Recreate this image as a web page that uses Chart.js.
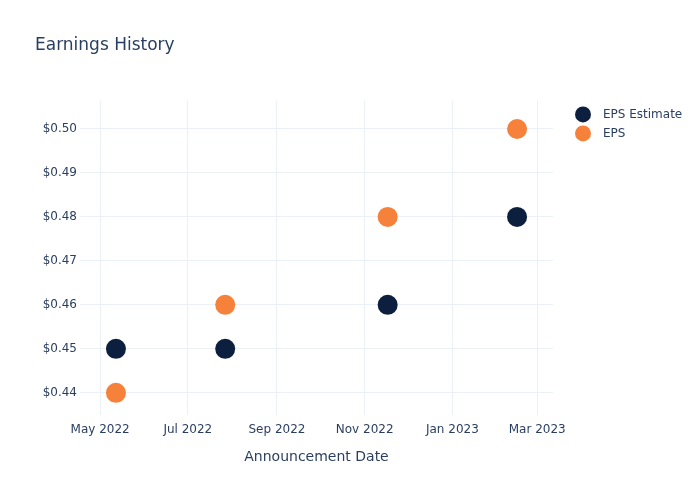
<!DOCTYPE html>
<html>
<head>
<meta charset="utf-8">
<script src="https://cdn.jsdelivr.net/npm/chart.js@4.4.0/dist/chart.umd.min.js"></script>
<style>
  html, body { margin: 0; padding: 0; background: #fff; }
  #wrap { width: 700px; height: 500px; }
</style>
</head>
<body>
<div id="wrap"><canvas id="epsChart"></canvas></div>
<script>
// announcement dates and values
const dates = ["2022-05-12", "2022-07-27", "2022-11-17", "2023-02-15"];
const epsEstimate = [0.45, 0.45, 0.46, 0.48];
const epsActual = [0.44, 0.46, 0.48, 0.50];

const xTickDates = ["2022-05-01", "2022-07-01", "2022-09-01", "2022-11-01", "2023-01-01", "2023-03-01"];
const xTickLabels = ["May 2022", "Jul 2022", "Sep 2022", "Nov 2022", "Jan 2023", "Mar 2023"];
const yTicks = [0.44, 0.45, 0.46, 0.47, 0.48, 0.49, 0.50];

const toMs = d => Date.parse(d + "T00:00:00Z");
const xTickMs = xTickDates.map(toMs);

const textColor = "#2a3f5f";
const gridColor = "#ebf0f8";
const font = "'DejaVu Sans', sans-serif";

// simple right-hand legend, plotly style
const sideLegend = {
    id: "sideLegend",
    afterDraw(chart) {
        const ctx = chart.ctx;
        const x = chart.chartArea.right + 30;
        let y = chart.chartArea.top + 14;
        ctx.save();
        ctx.font = "12px " + font;
        ctx.textBaseline = "middle";
        chart.data.datasets.forEach(ds => {
            ctx.fillStyle = ds.backgroundColor;
            ctx.beginPath();
            ctx.arc(x, y, 8, 0, Math.PI * 2);
            ctx.fill();
            ctx.fillStyle = textColor;
            ctx.fillText(ds.label, x + 20, y);
            y += 19;
        });
        ctx.restore();
    }
};

new Chart(document.getElementById("epsChart"), {
    type: "scatter",
    data: {
        datasets: [{
            label: "EPS Estimate",
            data: dates.map((d, i) => ({ x: toMs(d), y: epsEstimate[i] })),
            backgroundColor: "#0c1f3f",
            borderWidth: 0,
            pointRadius: 10,
            pointHoverRadius: 10,
        }, {
            label: "EPS",
            data: dates.map((d, i) => ({ x: toMs(d), y: epsActual[i] })),
            backgroundColor: "#f5813a",
            borderWidth: 0,
            pointRadius: 10,
            pointHoverRadius: 10,
        }]
    },
    options: {
        responsive: true,
        maintainAspectRatio: false,
        animation: false,
        layout: { padding: { left: 35, right: 147, bottom: 30, top: 0 } },
        plugins: {
            legend: { display: false },
            tooltip: { enabled: false },
            title: {
                display: true,
                text: "Earnings History",
                align: "start",
                color: textColor,
                font: { family: font, size: 17, weight: "normal" },
                padding: { top: 35, bottom: 45 }
            }
        },
        scales: {
            x: {
                type: "linear",
                min: toMs("2022-04-17"),
                max: toMs("2023-03-12"),
                afterBuildTicks: s => { s.ticks = xTickMs.map(v => ({ value: v })); },
                ticks: {
                    color: textColor,
                    font: { family: font, size: 12 },
                    padding: 8,
                    maxRotation: 0,
                    autoSkip: false,
                    callback: v => xTickLabels[xTickMs.indexOf(v)]
                },
                grid: { color: gridColor, drawTicks: false },
                border: { display: false },
                title: {
                    display: true,
                    text: "Announcement Date",
                    color: textColor,
                    font: { family: font, size: 14 },
                    padding: { top: 4, bottom: 4 }
                }
            },
            y: {
                min: 0.435,
                max: 0.5065,
                afterBuildTicks: s => { s.ticks = yTicks.map(v => ({ value: v })); },
                afterFit: s => { s.width = 45; },
                ticks: {
                    color: textColor,
                    font: { family: font, size: 12 },
                    padding: 3,
                    callback: v => "$" + v.toFixed(2)
                },
                grid: { color: gridColor, drawTicks: false },
                border: { display: false }
            }
        }
    },
    plugins: [sideLegend]
});
</script>
</body>
</html>
